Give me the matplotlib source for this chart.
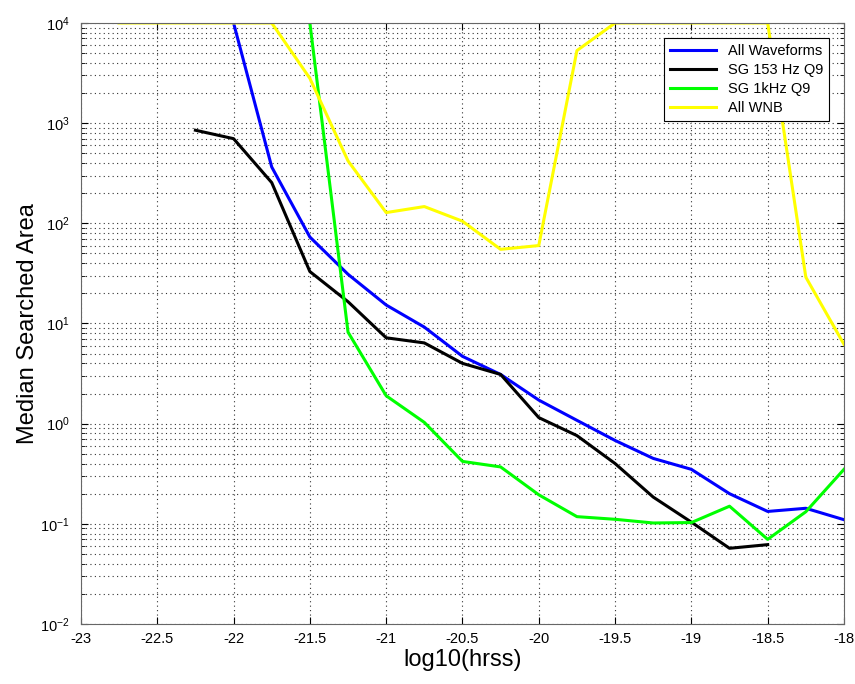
import numpy as np
import matplotlib
matplotlib.use('Agg')
import matplotlib.pyplot as plt
from matplotlib.ticker import LogLocator, MultipleLocator, NullFormatter

plt.rcParams['font.family'] = ['Liberation Sans', 'DejaVu Sans']

# hrss grid (log10) for each curve
x_all = np.arange(-22.0, -17.99, 0.25)
x_153 = np.arange(-22.25, -18.49, 0.25)
x_1k = np.arange(-21.5, -17.99, 0.25)
x_wnb = np.arange(-22.75, -17.99, 0.25)

area_all = [1e4, 365, 73, 31, 15.3, 9.2, 4.7, 3.1, 1.72, 1.08, 0.68,
            0.45, 0.35, 0.20, 0.133, 0.143, 0.110]
area_153 = [850, 700, 255, 33, 16.5, 7.2, 6.4, 4.0, 3.1, 1.15, 0.76,
            0.40, 0.185, 0.104, 0.057, 0.062]
area_1k = [1e4, 8.2, 1.9, 1.03, 0.42, 0.37, 0.195, 0.118, 0.111, 0.102,
           0.103, 0.150, 0.070, 0.132, 0.35]
area_wnb = [1e4, 1e4, 1e4, 1e4, 1e4, 2800, 420, 128, 147, 105, 55, 60,
            5300, 1e4, 1e4, 1e4, 1e4, 1e4, 29, 6.2]

labels = ['All Waveforms', 'SG 153 Hz Q9', 'SG 1kHz Q9', 'All WNB']

fig = plt.figure(figsize=(8.55, 6.84), dpi=100)
ax = fig.add_axes([0.0947, 0.0877, 0.8924, 0.8787])

lw = 2.2
ax.semilogy(x_all, area_all, color=(0, 0, 1), lw=lw, label=labels[0])
ax.semilogy(x_153, area_153, color='k', lw=lw, label=labels[1])
ax.semilogy(x_1k, area_1k, color=(0, 1, 0), lw=lw, label=labels[2])
ax.semilogy(x_wnb, area_wnb, color=(1, 1, 0), lw=lw, label=labels[3])

ax.set_xlim(-23, -18)
ax.set_ylim(1e-2, 1e4)
ax.xaxis.set_major_locator(MultipleLocator(0.5))
ax.xaxis.set_major_formatter(plt.FuncFormatter(lambda v, p: f'{v:g}'))
ax.yaxis.set_major_locator(LogLocator(base=10, numticks=10))
ax.yaxis.set_minor_locator(LogLocator(base=10, subs=np.arange(2, 10), numticks=20))
ax.yaxis.set_minor_formatter(NullFormatter())

dots = (0, (1, 3))
ax.grid(True, which='major', ls=dots, color='#333333', lw=0.8)
ax.grid(True, which='minor', axis='y', ls=dots, color='#333333', lw=0.8)
ax.tick_params(which='both', direction='in', top=True, right=True, labelsize=10.5)
ax.tick_params(axis='x', which='major', length=5, pad=6)
ax.tick_params(axis='y', which='major', length=5, pad=8)
ax.tick_params(which='minor', length=3)
for s in ax.spines.values():
    s.set_color('#666666')

ax.set_xlabel('log10(hrss)', fontsize=17, labelpad=2)
ax.set_ylabel('Median Searched Area', fontsize=17, labelpad=1)

leg = ax.legend(loc='upper right', bbox_to_anchor=(0.99, 0.987), fontsize=10.5,
                fancybox=False, framealpha=1, edgecolor='k', handlelength=3.2,
                borderpad=0.4, labelspacing=0.35)
leg.get_frame().set_linewidth(0.8)

fig.savefig('out.png', dpi=100)
